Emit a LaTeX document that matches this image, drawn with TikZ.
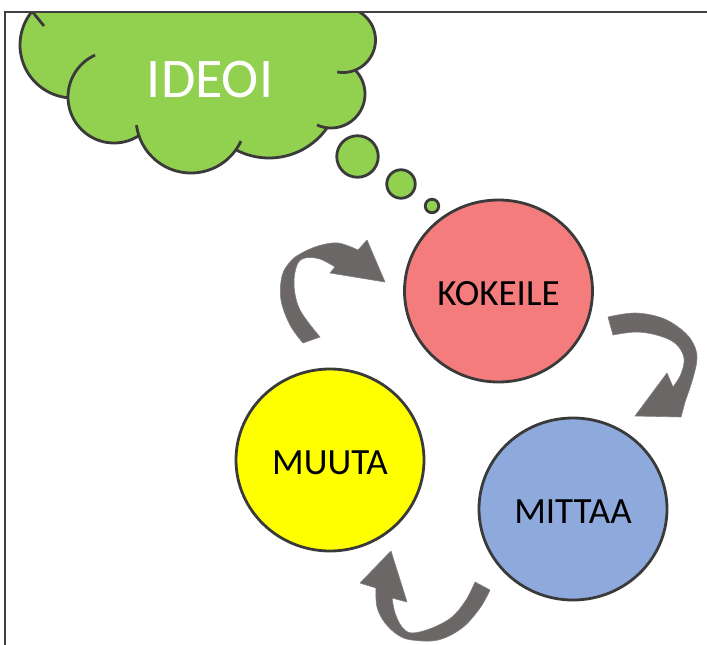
\documentclass[tikz,border=0pt]{standalone}
\usepackage{fontspec}
\setmainfont{Carlito}
\usetikzlibrary{shapes.geometric}
\definecolor{cloudgreen}{HTML}{92D050}
\definecolor{edgegray}{HTML}{3A3A3A}
\definecolor{kored}{HTML}{F47C7C}
\definecolor{miblue}{HTML}{8EA9DB}
\definecolor{muyellow}{HTML}{FFFF00}
\definecolor{arrowgray}{HTML}{6B6767}
\definecolor{framegray}{HTML}{404040}
\begin{document}
\begin{tikzpicture}[x=1pt,y=-1pt,
  cloudline/.style={draw=edgegray, line width=2.8pt},
  bubble/.style={circle, draw=edgegray, line width=2.8pt, fill=cloudgreen, inner sep=0pt},
  stage/.style={ellipse, draw=edgegray, line width=2.8pt, minimum width=188pt, minimum height=182pt, inner sep=0pt, font=\fontsize{37}{40}\selectfont, text=black, text height=28pt, text depth=0pt},
  blockarrow/.style={fill=arrowgray, draw=arrowgray!85!white, line width=0.6pt, line join=round},
  framelines/.style={draw=framegray, line width=2pt}
]
\useasboundingbox (0,0) rectangle (707,645);

% cloud
\begin{scope}
\clip (5,12) rectangle (707,645);
\fill[cloudgreen]
  plot[domain=225:95.4,samples=40,variable=\t] ({73+53*cos(\t)},{45+53*sin(\t)})
  -- plot[domain=179:57.2,samples=40,variable=\t] ({114+46*cos(\t)},{97+46*sin(\t)})
  -- plot[domain=161.2:35.3,samples=40,variable=\t] ({191+55*cos(\t)},{118+55*sin(\t)})
  -- plot[domain=117.8:35.1,samples=40,variable=\t] ({269+71*cos(\t)},{87+71*sin(\t)})
  -- plot[domain=96.6:-44.6,samples=40,variable=\t] ({331+34*cos(\t)},{94+34*sin(\t)})
  -- plot[domain=67.9:-80,samples=40,variable=\t] ({343+32.5*cos(\t)},{40+32.5*sin(\t)})
  -- (349,-5) -- (36,-5) -- cycle;
\draw[cloudline] plot[domain=225:95.4,samples=40,variable=\t] ({73+53*cos(\t)},{45+53*sin(\t)});
\draw[cloudline] plot[domain=245.7:57.2,samples=50,variable=\t] ({114+46*cos(\t)},{97+46*sin(\t)});
\draw[cloudline] plot[domain=172.5:24.8,samples=50,variable=\t] ({191+55*cos(\t)},{118+55*sin(\t)});
\draw[cloudline] plot[domain=117.8:35.1,samples=40,variable=\t] ({269+71*cos(\t)},{87+71*sin(\t)});
\draw[cloudline] plot[domain=114.3:-44.6,samples=50,variable=\t] ({331+34*cos(\t)},{94+34*sin(\t)});
\draw[cloudline] plot[domain=100.3:-80,samples=50,variable=\t] ({343+32.5*cos(\t)},{40+32.5*sin(\t)});
\draw[cloudline] (31,10) -- (44,26);
\end{scope}
\node[text=white, font=\fontsize{56}{60}\selectfont] (ideoi) at (210,80) {IDEOI};

% thought bubbles
\node[bubble, minimum size=41.5pt] (b1) at (357.5,156.5) {};
\node[bubble, minimum size=28.5pt] (b2) at (401,184) {};
\node[bubble, minimum size=13.5pt] (b3) at (432,206) {};

% stage circles
\node[stage, fill=kored] (kokeile) at (498.5,291) {KOKEILE};
\node[stage, fill=miblue] (mittaa) at (573,509) {MITTAA};
\node[stage, fill=muyellow] (muuta) at (330,460) {MUUTA};

% curved block arrows
\filldraw[blockarrow]
  plot[smooth, tension=0.6] coordinates {(303,343) (290,325) (281,300) (282,276) (290,262) (300,254) (318,246) (338,243) (358,250)}
  -- (367,240) -- (385,282) -- (330,273) -- (335,267)
  -- plot[smooth, tension=0.6] coordinates {(335,267) (320,259) (305,258) (297,265) (294,285) (300,310) (320,337)}
  -- cycle;
\filldraw[blockarrow]
  plot[smooth, tension=0.6] coordinates {(608,317) (635,313) (662,318) (682,330) (693,343) (697,358) (693,378) (685,402)}
  -- (681,417) -- (635,416) -- (667,373) -- (673,387)
  -- plot[smooth, tension=0.6] coordinates {(673,387) (681,374) (684,358) (676,344) (660,336) (637,332) (613,335)}
  -- cycle;
\filldraw[blockarrow]
  (391,551) -- (360,583) -- (376,588)
  -- plot[smooth, tension=0.6] coordinates {(376,588) (377,607) (385,623) (398,635) (412,640) (438,640) (462,628) (480,608) (490,590)}
  -- (475,582)
  -- plot[smooth, tension=0.6] coordinates {(475,582) (466,600) (452,617) (432,628) (412,633) (402,627) (395,613) (392,598)}
  -- (407,602) -- cycle;

% frame
\draw[framelines] (5,645) -- (5,12) -- (707,12);
\end{tikzpicture}
\end{document}
